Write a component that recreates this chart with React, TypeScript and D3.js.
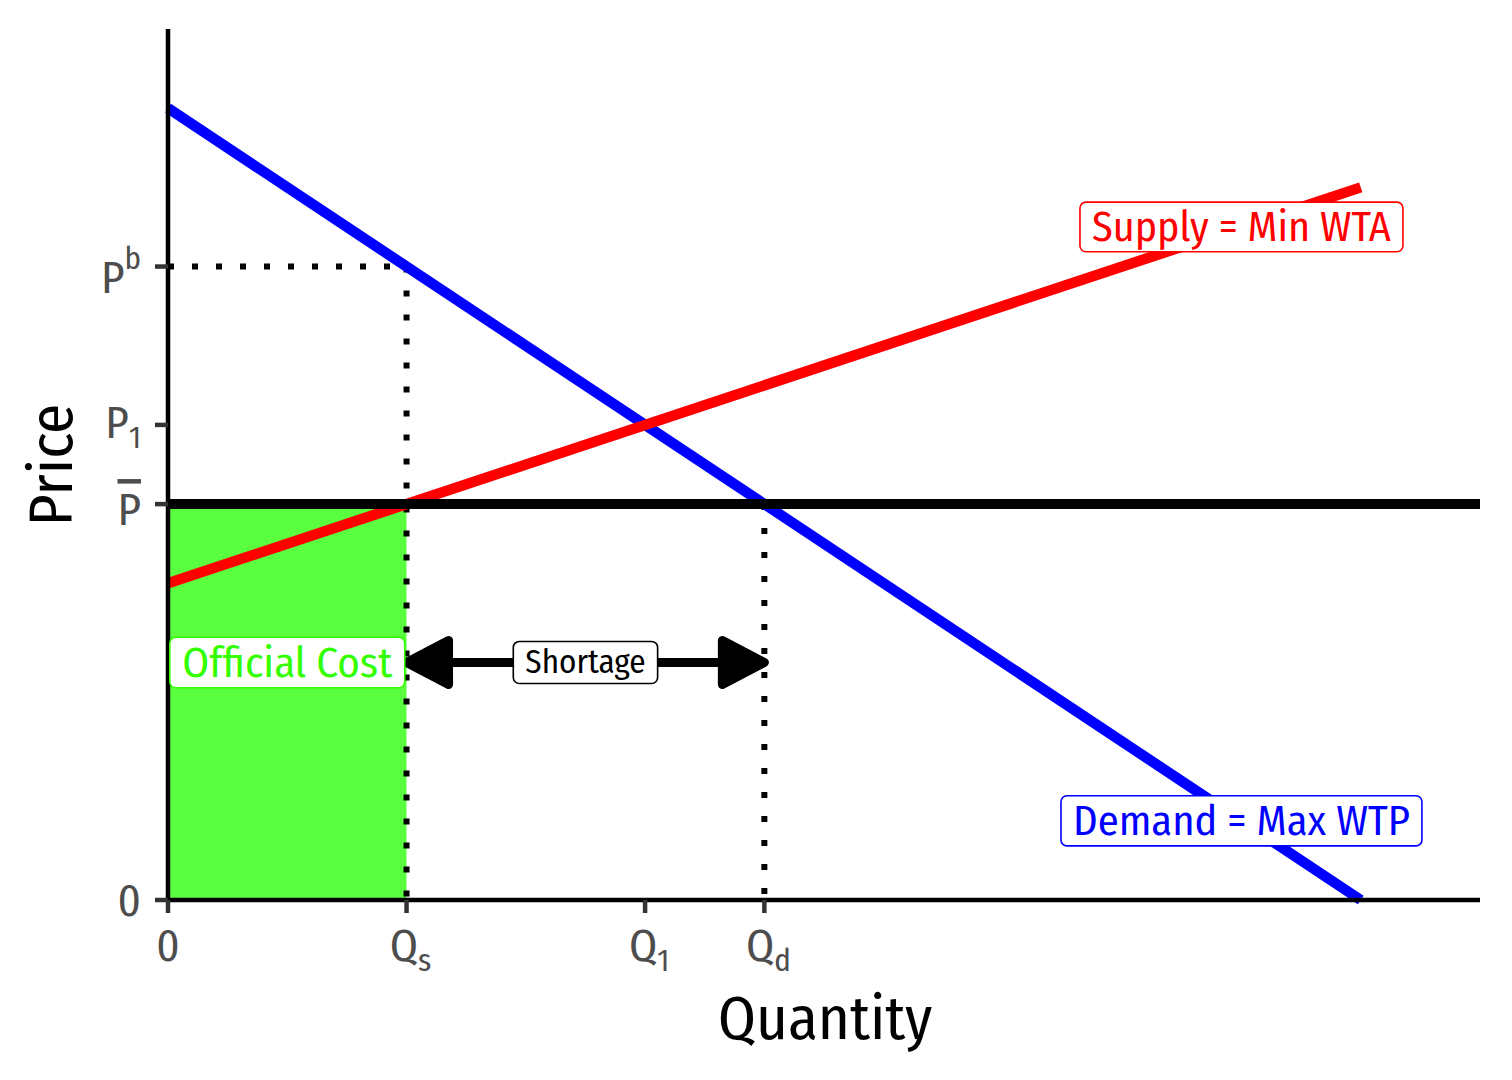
import * as d3 from "d3";
import React, { useLayoutEffect, useRef, useState } from "react";

// curves (quantity, price)
const demandQ = [0, 10];
const demandP = [10, 0];
const supplyQ = [0, 10];
const supplyP = [4, 9];

const priceCeiling = 5;
const quantitySupplied = 2;
const quantityDemanded = 5;
const buyerPrice = 8;
const shortagePrice = 3;

const xTicks = [
  { value: 0, main: "0", sub: "" },
  { value: 2, main: "Q", sub: "s" },
  { value: 4, main: "Q", sub: "1" },
  { value: 5, main: "Q", sub: "d" },
];
const yTicks = [
  { value: 0, main: "0", sub: "", sup: "", bar: false },
  { value: 5, main: "P", sub: "", sup: "", bar: true },
  { value: 6, main: "P", sub: "1", sup: "", bar: false },
  { value: 8, main: "P", sub: "", sup: "b", bar: false },
];

const annotations = [
  { q: 9, p: 8.5, text: "Supply = Min WTA", color: "#ff0000", size: 42 },
  { q: 9, p: 1, text: "Demand = Max WTP", color: "#0000ff", size: 42.5 },
  { q: 1, p: 3, text: "Official Cost", color: "#33ff00", size: 43 },
  { q: 3.5, p: 3, text: "Shortage", color: "#000000", size: 33 },
];

const FONT =
  "'Fira Sans Condensed', 'Roboto Condensed', 'Liberation Sans Narrow', 'DejaVu Sans Condensed', Roboto, sans-serif";

const W = 1512;
const H = 1080;

const BoxLabel = ({ x, y, text, color, size }) => {
  const ref = useRef<SVGTextElement>(null);
  const [box, setBox] = useState({ w: 0, h: 0 });
  useLayoutEffect(() => {
    if (ref.current) {
      const b = ref.current.getBBox();
      setBox({ w: b.width, h: b.height });
    }
  }, [text, size]);
  const padX = 12;
  const bh = size * 0.85 + 14;
  return (
    <g transform={`translate(${x}, ${y})`}>
      {box.w > 0 && (
        <rect
          x={-box.w / 2 - padX}
          y={-bh / 2}
          width={box.w + padX * 2}
          height={bh}
          rx={6}
          fill="white"
          stroke={color}
          strokeWidth={1.6}
        />
      )}
      <text
        ref={ref}
        textAnchor="middle"
        dominantBaseline="central"
        fontSize={size}
        fill={color}
      >
        {text}
      </text>
    </g>
  );
};

export default function App() {
  document.body.style.margin = "0";

  const x = d3.scaleLinear().domain([0, 11]).range([168, 1480]);
  const y = d3.scaleLinear().domain([0, 11]).range([900, 29]);

  const line = d3
    .line<[number, number]>()
    .x((d) => x(d[0]))
    .y((d) => y(d[1]));

  const demand = demandQ.map((q, i) => [q, demandP[i]] as [number, number]);
  const supply = supplyQ.map((q, i) => [q, supplyP[i]] as [number, number]);

  const ay = y(shortagePrice);
  const ax0 = x(quantitySupplied);
  const ax1 = x(quantityDemanded);
  const headL = 42;
  const headH = 22;

  return (
    <svg width={W} height={H} style={{ display: "block", fontFamily: FONT }}>
      <rect width={W} height={H} fill="white" />

      {/* official cost area */}
      <rect
        x={x(0)}
        y={y(priceCeiling)}
        width={x(quantitySupplied) - x(0)}
        height={y(0) - y(priceCeiling)}
        fill="#5aff40"
      />

      {/* dotted guides */}
      <g stroke="black" strokeWidth={6} strokeDasharray="6 18" fill="none">
        <line x1={x(0)} x2={x(quantitySupplied)} y1={y(buyerPrice)} y2={y(buyerPrice)} />
        <line x1={x(quantitySupplied)} x2={x(quantitySupplied)} y1={y(buyerPrice)} y2={y(0)} />
        <line x1={x(quantityDemanded)} x2={x(quantityDemanded)} y1={y(priceCeiling)} y2={y(0)} />
      </g>

      {/* curves */}
      <path d={line(demand) ?? ""} stroke="#0000ff" strokeWidth={10.5} fill="none" />
      <path d={line(supply) ?? ""} stroke="#ff0000" strokeWidth={10.5} fill="none" />
      <line
        x1={x(0)}
        x2={x(11)}
        y1={y(priceCeiling)}
        y2={y(priceCeiling)}
        stroke="black"
        strokeWidth={10}
      />

      {/* shortage arrow */}
      <g stroke="black" strokeWidth={9} strokeLinejoin="round" fill="black">
        <line x1={ax0 + headL} x2={ax1 - headL} y1={ay} y2={ay} />
        <polygon points={`${ax0},${ay} ${ax0 + headL},${ay - headH} ${ax0 + headL},${ay + headH}`} />
        <polygon points={`${ax1},${ay} ${ax1 - headL},${ay - headH} ${ax1 - headL},${ay + headH}`} />
      </g>

      {/* axes */}
      <line x1={x(0)} x2={x(0)} y1={y(11)} y2={y(0)} stroke="black" strokeWidth={4.5} />
      <line x1={x(0)} x2={x(11)} y1={y(0)} y2={y(0)} stroke="black" strokeWidth={4.5} />

      {/* y ticks */}
      {yTicks.map((t) => (
        <g key={`y${t.value}`}>
          <line x1={x(0) - 13} x2={x(0)} y1={y(t.value)} y2={y(t.value)} stroke="#333" strokeWidth={4.5} />
          <text
            x={x(0) - 27}
            y={y(t.value) + (t.bar ? 21 : t.sup ? 26 : t.sub ? 13 : 16)}
            textAnchor="end"
            fontSize={45}
            fill="#4d4d4d"
            style={t.bar ? { textDecoration: "overline" } : undefined}
          >
            <tspan>{t.main}</tspan>
            {t.sub && (
              <tspan fontSize={31} dy={10}>
                {t.sub}
              </tspan>
            )}
            {t.sup && (
              <tspan fontSize={31} dy={-24}>
                {t.sup}
              </tspan>
            )}
          </text>
        </g>
      ))}

      {/* x ticks */}
      {xTicks.map((t) => (
        <g key={`x${t.value}`}>
          <line x1={x(t.value)} x2={x(t.value)} y1={y(0)} y2={y(0) + 13} stroke="#333" strokeWidth={4.5} />
          <text x={x(t.value) + (t.sub ? 4 : 0)} y={961} textAnchor="middle" fontSize={45} fill="#4d4d4d">
            <tspan>{t.main}</tspan>
            {t.sub && (
              <tspan fontSize={31} dy={10}>
                {t.sub}
              </tspan>
            )}
          </text>
        </g>
      ))}

      {/* axis titles */}
      <text x={825} y={1039} textAnchor="middle" fontSize={61} fill="black">
        Quantity
      </text>
      <text
        transform={`translate(72, ${465}) rotate(-90)`}
        textAnchor="middle"
        fontSize={61}
        fill="black"
      >
        Price
      </text>

      {/* labels */}
      {annotations.map((a) => (
        <BoxLabel key={a.text} x={x(a.q)} y={y(a.p)} text={a.text} color={a.color} size={a.size} />
      ))}
    </svg>
  );
}
